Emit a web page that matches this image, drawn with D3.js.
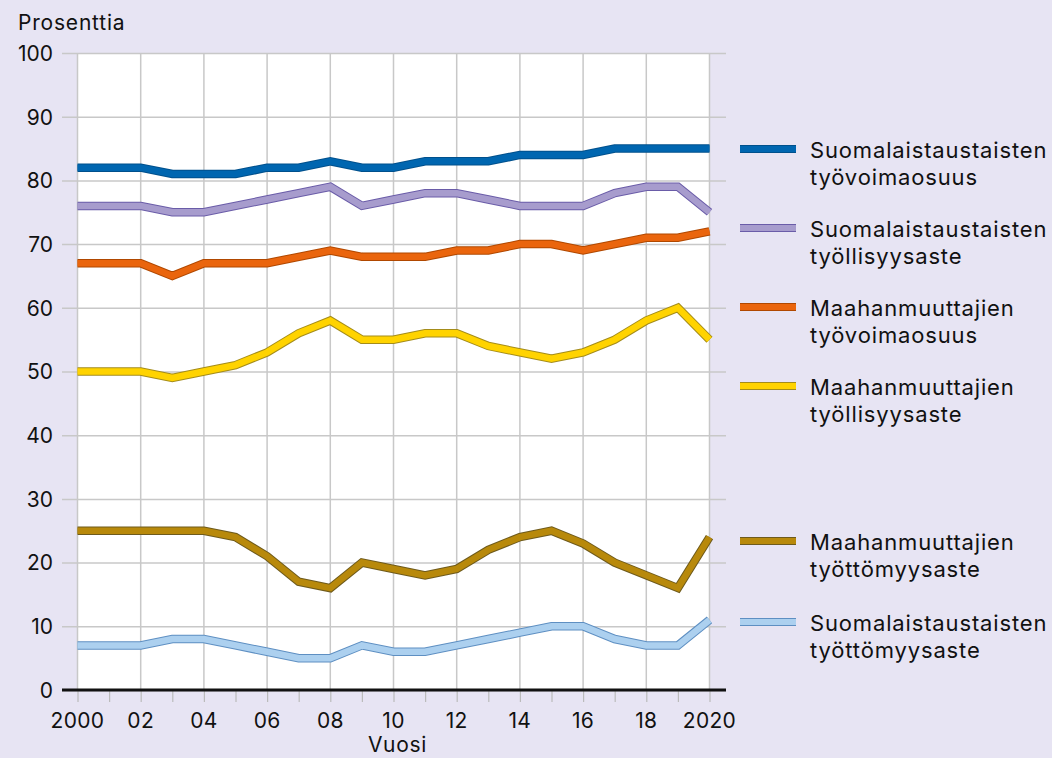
<!DOCTYPE html>
<html><head><meta charset="utf-8">
<script src="https://cdn.jsdelivr.net/npm/d3@7"></script>
<style>
body{margin:0;background:#e7e4f3;}
svg{display:block;font-family:Inter,"Noto Sans",sans-serif;}
</style></head>
<body><svg id="c" width="1052" height="758"></svg>
<script>
const years = d3.range(2000, 2021);
const yTicks = [0,10,20,30,40,50,60,70,80,90,100];
const xTickYears = [2000,2002,2004,2006,2008,2010,2012,2014,2016,2018,2020];
const xTickLabels = ["2000","02","04","06","08","10","12","14","16","18","2020"];

const finLabourForce = [82,82,82,81,81,81,82,82,83,82,82,83,83,83,84,84,84,85,85,85,85];
const finEmployment = [76,76,76,75,75,76,77,78,79,76,77,78,78,77,76,76,76,78,79,79,75];
const immLabourForce = [67,67,67,65,67,67,67,68,69,68,68,68,69,69,70,70,69,70,71,71,72];
const immEmployment = [50,50,50,49,50,51,53,56,58,55,55,56,56,54,53,52,53,55,58,60,55];
const immUnemployment = [25,25,25,25,25,24,21,17,16,20,19,18,19,22,24,25,23,20,18,16,24];
const finUnemployment = [7,7,7,8,8,7,6,5,5,7,6,6,7,8,9,10,10,8,7,7,11];

const seriesNames = [
  ["Suomalaistaustaisten","työvoimaosuus"],
  ["Suomalaistaustaisten","työllisyysaste"],
  ["Maahanmuuttajien","työvoimaosuus"],
  ["Maahanmuuttajien","työllisyysaste"],
  ["Maahanmuuttajien","työttömyysaste"],
  ["Suomalaistaustaisten","työttömyysaste"]
];
const seriesValues = [finLabourForce, finEmployment, immLabourForce, immEmployment, immUnemployment, finUnemployment];
const fillColors = ["#0066b0","#a79ccd","#ea650d","#ffd300","#b8890b","#acd0ef"];
const edgeColors = ["#00508c","#6a5ca8","#b04800","#a48c1a","#6e5a1c","#5e8fc2"];
const legendY = [149, 228, 307, 386, 541, 622];

const svg = d3.select("#c");
const x = d3.scaleLinear().domain([2000,2020]).range([77.5,709.5]);
const y = d3.scaleLinear().domain([0,100]).range([690,53]);

svg.append("rect").attr("x",x(2000)).attr("y",y(100)).attr("width",x(2020)-x(2000)).attr("height",y(0)-y(100)).attr("fill","#fff");

svg.append("g").attr("transform","translate(62,0)")
  .call(d3.axisLeft(y).tickValues(yTicks).tickSize(-664).tickFormat(d=>d).tickPadding(9))
  .call(g=>g.select(".domain").remove())
  .call(g=>g.selectAll(".tick line").attr("stroke","#c8c8c8").attr("stroke-width",1.5))
  .call(g=>g.selectAll(".tick text").attr("font-size",21).attr("fill","#111").attr("font-family","Inter,sans-serif").attr("dy","0.35em"));

svg.append("g").selectAll("line").data(xTickYears).join("line")
  .attr("x1",d=>x(d)).attr("x2",d=>x(d)).attr("y1",y(100)).attr("y2",y(0))
  .attr("stroke","#c8c8c8").attr("stroke-width",1.5);

svg.append("g").attr("transform",`translate(0,${y(0)})`)
  .call(d3.axisBottom(x).tickValues(years).tickSize(12).tickFormat(""))
  .call(g=>g.select(".domain").remove())
  .call(g=>g.selectAll(".tick line").attr("stroke","#bbb").attr("stroke-width",1.2));
svg.append("g").selectAll("text").data(xTickYears).join("text")
  .attr("x",d=>x(d)).attr("y",728).attr("text-anchor","middle")
  .attr("font-size",21).attr("letter-spacing",0.3).attr("fill","#111").text((d,i)=>xTickLabels[i]);
svg.append("line").attr("x1",62).attr("x2",726).attr("y1",y(0)).attr("y2",y(0)).attr("stroke","#111").attr("stroke-width",3);

svg.append("text").attr("x",x(2010)+4).attr("y",752).attr("text-anchor","middle").attr("font-size",21).attr("letter-spacing",0.7).attr("fill","#111").text("Vuosi");
svg.append("text").attr("x",18).attr("y",30).attr("font-size",21).attr("letter-spacing",0.8).attr("fill","#111").text("Prosenttia");

const line = d3.line().x((d,i)=>x(years[i])).y(d=>y(d));
seriesValues.forEach((vals,k)=>{
  svg.append("path").attr("d",line(vals)).attr("fill","none").attr("stroke",edgeColors[k]).attr("stroke-width",8.5).attr("stroke-linejoin","miter");
  svg.append("path").attr("d",line(vals)).attr("fill","none").attr("stroke",fillColors[k]).attr("stroke-width",6.5).attr("stroke-linejoin","miter");
});

seriesNames.forEach((nm,k)=>{
  const g = svg.append("g");
  g.append("rect").attr("x",740).attr("y",legendY[k]-4).attr("width",56).attr("height",8).attr("fill",edgeColors[k]);
  g.append("rect").attr("x",740).attr("y",legendY[k]-3).attr("width",56).attr("height",6).attr("fill",fillColors[k]);
  g.append("text").attr("x",810).attr("y",legendY[k]+8.5).attr("font-size",22).attr("letter-spacing",0.85).attr("fill","#111").text(nm[0]);
  g.append("text").attr("x",810).attr("y",legendY[k]+36).attr("font-size",22).attr("letter-spacing",0.85).attr("fill","#111").text(nm[1]);
});
</script></body></html>
